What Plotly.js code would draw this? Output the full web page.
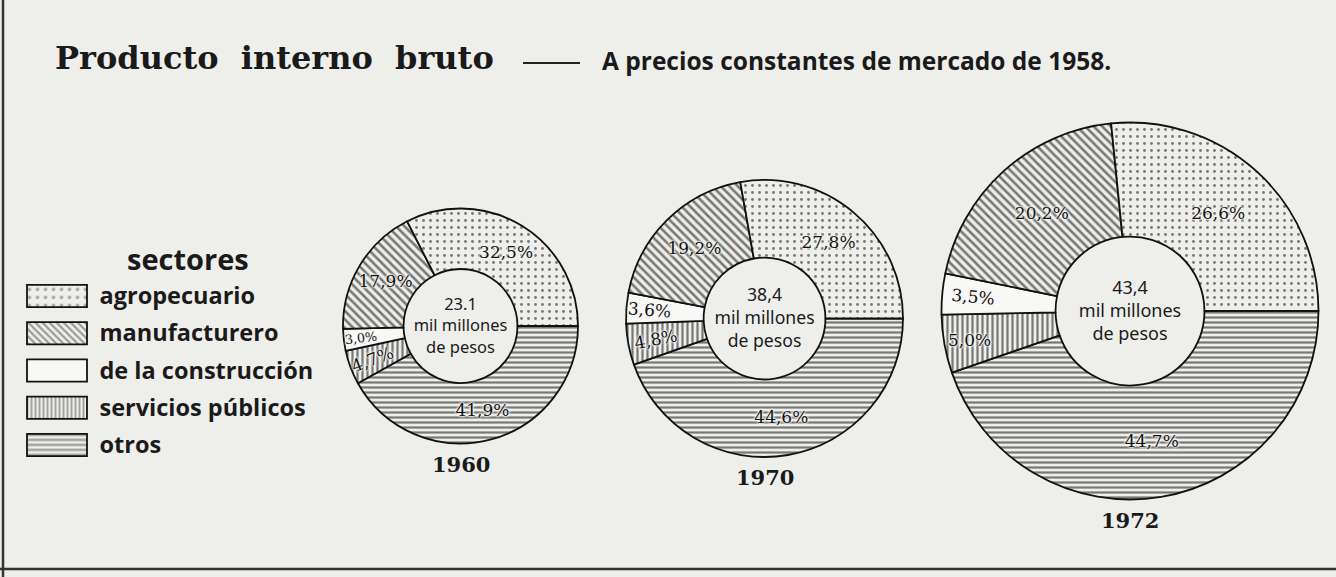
<!DOCTYPE html>
<html>
<head>
<meta charset="utf-8">
<script src="https://cdn.plot.ly/plotly-3.0.1.min.js"></script>
<style>html,body{margin:0;padding:0;background:#eeeeeb;}</style>
</head>
<body>
<div id="chart" style="width:1336px;height:577px;"></div>
<script>
// ---- data ----
const sectores = ['agropecuario', 'manufacturero', 'de la construcción', 'servicios públicos', 'otros'];
const years = ['1960', '1970', '1972'];
const pct1960 = [32.5, 17.9, 3.0, 4.7, 41.9];
const pct1970 = [27.8, 19.2, 3.6, 4.8, 44.6];
const pct1972 = [26.6, 20.2, 3.5, 5.0, 44.7];
const totals = ['23.1', '38,4', '43,4'];
const legendOnes = [1, 1, 1, 1, 1];

// ---- styles ----
const W = 1336, H = 577;
const bg = '#eeeeeb';
const ink = '#000000';
const fillColors = [bg, bg, '#f8f8f6', bg, bg];
const patShapes = ['.', '\\', '', '|', '-'];
const patSizes = [7, 6, 8, 5, 5];
const patSolid = [0.13, 0.42, 0.3, 0.44, 0.44];
const legSizes = [8, 5, 8, 4, 5];

// pie boxes in pixels: [cx, cy, r, hole]
const boxes = [
  [460.5, 326, 117.5, 0.485],
  [764.5, 318.5, 138.5, 0.44],
  [1130, 311, 188.5, 0.395]
];
const allPct = [pct1960, pct1970, pct1972];
const titleSizes = [18, 18, 18];

function domainOf(b) {
  const [cx, cy, r] = b;
  return {
    x: [(cx - r) / W, (cx + r) / W],
    y: [(H - cy - r) / H, (H - cy + r) / H]
  };
}
const rev = a => a.slice().reverse();

const traces = [];
allPct.forEach((vals, i) => {
  const b = boxes[i];
  traces.push({
    type: 'pie',
    values: rev(vals),
    labels: rev(sectores),
    sort: false,
    direction: 'clockwise',
    rotation: 90,
    hole: b[3],
    domain: domainOf(b),
    marker: {
      colors: rev(fillColors),
      line: {color: '#111', width: 1.8},
      pattern: {
        shape: rev(patShapes),
        size: rev(patSizes),
        solidity: rev(patSolid),
        fgcolor: ink,
        fillmode: 'overlay'
      }
    },
    texttemplate: '%{value:.1f}%',
    textposition: 'inside',
    insidetextorientation: 'auto',
    textfont: {family: 'DejaVu Serif', size: 17, color: '#111',
      shadow: '0 0 3px #f4f4f2, 0 0 3px #f4f4f2, 0 0 2px #f4f4f2, 0 0 2px #f4f4f2'},
    title: {
      text: totals[i] + '<br>mil millones<br>de pesos',
      position: 'middle center',
      font: {family: 'Noto Sans', size: titleSizes[i], color: '#1a1a1a'}
    },
    hoverinfo: 'label+percent',
    showlegend: false
  });
});

// legend swatches as patterned bars
traces.push({
  type: 'bar',
  orientation: 'h',
  y: sectores,
  x: legendOnes,
  base: 0,
  marker: {
    color: fillColors,
    line: {color: '#111', width: 1.8},
    pattern: {shape: patShapes, size: legSizes, solidity: patSolid, fgcolor: ink, fillmode: 'overlay'}
  },
  hoverinfo: 'y',
  showlegend: false
});

const annotations = years.map((yr, i) => {
  const d = domainOf(boxes[i]);
  return {
    text: yr, xref: 'paper', yref: 'paper',
    x: (d.x[0] + d.x[1]) / 2, y: d.y[0] - 6 / H,
    xanchor: 'center', yanchor: 'top', showarrow: false,
    font: {family: 'DejaVu Serif', size: 21, weight: 600, color: '#1a1a1a'}
  };
});
annotations.push({
  text: 'A precios constantes de mercado de 1958.',
  xref: 'paper', yref: 'paper', x: 600 / W, y: 1 - 60 / H,
  xanchor: 'left', yanchor: 'middle', showarrow: false,
  font: {family: 'Open Sans', size: 24.5, weight: 'bold', color: '#1a1a1a'}
});
annotations.push({
  text: 'sectores',
  xref: 'paper', yref: 'paper', x: 188 / W, y: 1 - 258 / H,
  xanchor: 'center', yanchor: 'middle', showarrow: false,
  font: {family: 'Open Sans', size: 29, weight: 'bold', color: '#1a1a1a'}
});

const layout = {
  width: W, height: H,
  margin: {l: 0, r: 0, t: 0, b: 0},
  paper_bgcolor: bg,
  plot_bgcolor: 'rgba(0,0,0,0)',
  separators: ',.',
  showlegend: false,
  bargap: 0.4,
  title: {
    text: 'Producto&nbsp; interno&nbsp; bruto',
    x: 55 / W, xanchor: 'left', y: 1 - 58 / H, yanchor: 'middle',
    font: {family: 'DejaVu Serif', size: 32, weight: 'bold', color: '#1a1a1a'}
  },
  xaxis: {
    domain: [25.5 / W, 88.5 / W], range: [-0.025, 1.025],
    visible: false, fixedrange: true
  },
  yaxis: {
    domain: [(H - 463.6) / H, (H - 277.4) / H],
    type: 'category', autorange: 'reversed',
    side: 'right', anchor: 'x',
    showgrid: false, zeroline: false, showline: false, ticks: '',
    ticklabelstandoff: 10,
    tickfont: {family: 'Open Sans', size: 23.5, weight: 'bold', color: '#1a1a1a'},
    fixedrange: true
  },
  shapes: [
    {type: 'line', xref: 'paper', yref: 'paper', x0: 523 / W, x1: 580 / W, y0: 1 - 63 / H, y1: 1 - 63 / H,
     line: {color: '#222', width: 2}},
    {type: 'line', xref: 'paper', yref: 'paper', x0: 3 / W, x1: 3 / W, y0: 0, y1: 1,
     line: {color: '#333', width: 2.5}},
    {type: 'line', xref: 'paper', yref: 'paper', x0: 0, x1: 1, y0: 1 - 569 / H, y1: 1 - 569 / H,
     line: {color: '#333', width: 2.5}}
  ],
  annotations: annotations
};

Plotly.newPlot('chart', traces, layout, {displayModeBar: false, staticPlot: true});
</script>
</body>
</html>
